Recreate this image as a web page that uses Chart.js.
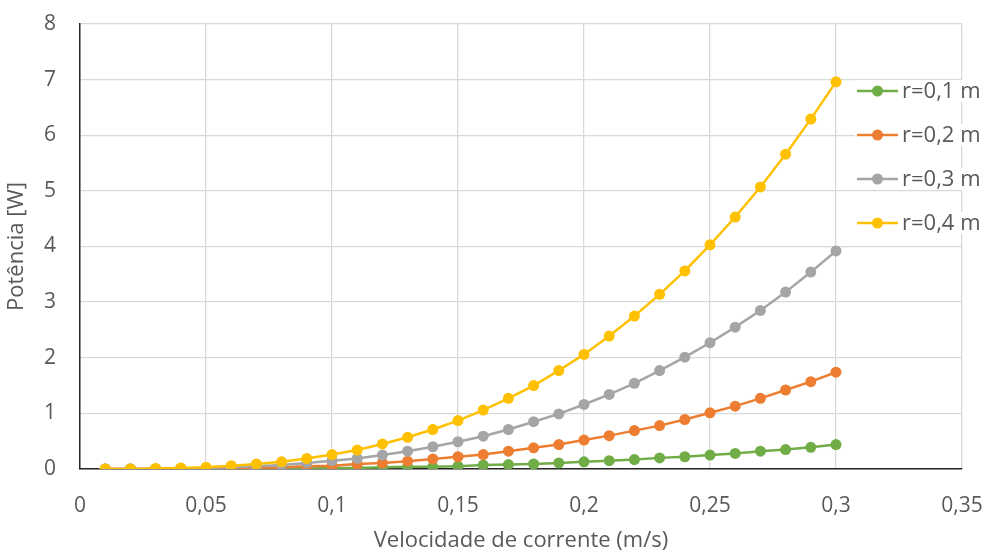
<!doctype html>
<html lang="pt">
<head>
<meta charset="utf-8">
<style>
  html, body { margin: 0; padding: 0; background: #fff; }
  #wrap { width: 987px; height: 554px; }
</style>
</head>
<body>
<div id="wrap"><canvas id="myChart" width="987" height="554"></canvas></div>

<script src="https://cdn.jsdelivr.net/npm/chart.js"></script>
<script>
// velocidade de corrente (m/s)
const velocidade = [0.01, 0.02, 0.03, 0.04, 0.05, 0.06, 0.07, 0.08, 0.09, 0.10,
                    0.11, 0.12, 0.13, 0.14, 0.15, 0.16, 0.17, 0.18, 0.19, 0.20,
                    0.21, 0.22, 0.23, 0.24, 0.25, 0.26, 0.27, 0.28, 0.29, 0.30];

// potencia [W]
const pot_r01 = [0.00, 0.00, 0.00, 0.00, 0.00, 0.00, 0.01, 0.01, 0.01, 0.02,
                 0.02, 0.03, 0.04, 0.04, 0.05, 0.07, 0.08, 0.09, 0.11, 0.13,
                 0.15, 0.17, 0.20, 0.22, 0.25, 0.28, 0.32, 0.35, 0.39, 0.44];
const pot_r02 = [0.00, 0.00, 0.00, 0.00, 0.01, 0.01, 0.02, 0.03, 0.05, 0.06,
                 0.09, 0.11, 0.14, 0.18, 0.22, 0.26, 0.32, 0.38, 0.44, 0.52,
                 0.60, 0.69, 0.78, 0.89, 1.01, 1.13, 1.27, 1.42, 1.57, 1.74];
const pot_r03 = [0.00, 0.00, 0.00, 0.01, 0.02, 0.03, 0.05, 0.07, 0.11, 0.15,
                 0.19, 0.25, 0.32, 0.40, 0.49, 0.59, 0.71, 0.85, 0.99, 1.16,
                 1.34, 1.54, 1.77, 2.01, 2.27, 2.55, 2.85, 3.18, 3.54, 3.92];
const pot_r04 = [0.00, 0.00, 0.01, 0.02, 0.03, 0.06, 0.09, 0.13, 0.19, 0.26,
                 0.34, 0.45, 0.57, 0.71, 0.87, 1.06, 1.27, 1.50, 1.77, 2.06,
                 2.39, 2.75, 3.14, 3.56, 4.03, 4.53, 5.07, 5.66, 6.29, 6.96];

const series_labels = ['r=0,1 m', 'r=0,2 m', 'r=0,3 m', 'r=0,4 m'];
const series_colors = ['#70AD47', '#ED7D31', '#A5A5A5', '#FFC000'];
const series_values = [pot_r01, pot_r02, pot_r03, pot_r04];

const FONT = "'Open Sans', 'Noto Sans', sans-serif";
const TXT = '#595959';

function fmt(v) {
    return String(+v.toFixed(2)).replace('.', ',');
}

// Excel style legend drawn over the plot area (line + marker, white behind)
const excelLegend = {
    id: 'excelLegend',
    afterDraw(chart) {
        const c = chart.ctx;
        const x0 = 857, y0 = 91, gap = 44;
        c.save();
        c.font = '22px ' + FONT;
        c.textBaseline = 'middle';
        series_labels.forEach((lab, i) => {
            const y = y0 + i * gap;
            c.fillStyle = '#fff';
            c.fillRect(x0 - 2, y - 11, 130, 22);
            c.strokeStyle = series_colors[i];
            c.lineWidth = 2.5;
            c.beginPath();
            c.moveTo(x0, y);
            c.lineTo(x0 + 41, y);
            c.stroke();
            c.fillStyle = series_colors[i];
            c.beginPath();
            c.arc(x0 + 20.5, y, 5.5, 0, Math.PI * 2);
            c.fill();
            c.fillStyle = TXT;
            c.fillText(lab, x0 + 45, y + 1);
        });
        c.restore();
    }
};

const ctx = document.getElementById('myChart');

new Chart(ctx, {
    type: 'line',
    data: {
        datasets: series_values.map((vals, i) => ({
            label: series_labels[i],
            data: velocidade.map((v, k) => ({ x: v, y: vals[k] })),
            borderColor: series_colors[i],
            backgroundColor: series_colors[i],
            borderWidth: 2.5,
            pointRadius: 5.5,
            pointHoverRadius: 5.5,
            pointBorderWidth: 0,
            tension: 0,
            order: series_values.length - i
        }))
    },
    options: {
        responsive: false,
        animation: false,
        layout: { padding: { top: 24, right: 25, left: 0, bottom: 0 } },
        plugins: {
            legend: { display: false },
            tooltip: { enabled: false }
        },
        scales: {
            x: {
                type: 'linear',
                min: 0,
                max: 0.35,
                ticks: {
                    stepSize: 0.05,
                    color: TXT,
                    font: { family: FONT, size: 21 },
                    padding: 24,
                    maxRotation: 0,
                    callback: v => fmt(v)
                },
                grid: { color: '#D9D9D9', lineWidth: 1.3, drawTicks: false },
                border: { color: '#262626', width: 1.5 },
                title: {
                    display: true,
                    text: 'Velocidade de corrente (m/s)',
                    color: TXT,
                    font: { family: FONT, size: 22 },
                    padding: { top: 4, bottom: 0 }
                },
                afterFit(scale) {
                    scale.height = 85;
                    scale.paddingLeft = 0;
                    scale.paddingRight = 0;
                }
            },
            y: {
                min: 0,
                max: 8,
                ticks: {
                    stepSize: 1,
                    color: TXT,
                    font: { family: FONT, size: 21 },
                    padding: 24,
                    callback: v => fmt(v)
                },
                grid: { color: '#D9D9D9', lineWidth: 1.3, drawTicks: false },
                border: { color: '#262626', width: 1.5 },
                title: {
                    display: true,
                    text: 'Potência [W]',
                    color: TXT,
                    font: { family: FONT, size: 22 },
                    padding: { top: 4, bottom: 0 }
                },
                afterFit(scale) {
                    scale.width = 80;
                    scale.paddingTop = 0;
                    scale.paddingBottom = 0;
                }
            }
        }
    },
    plugins: [excelLegend]
});
</script>
</body>
</html>
